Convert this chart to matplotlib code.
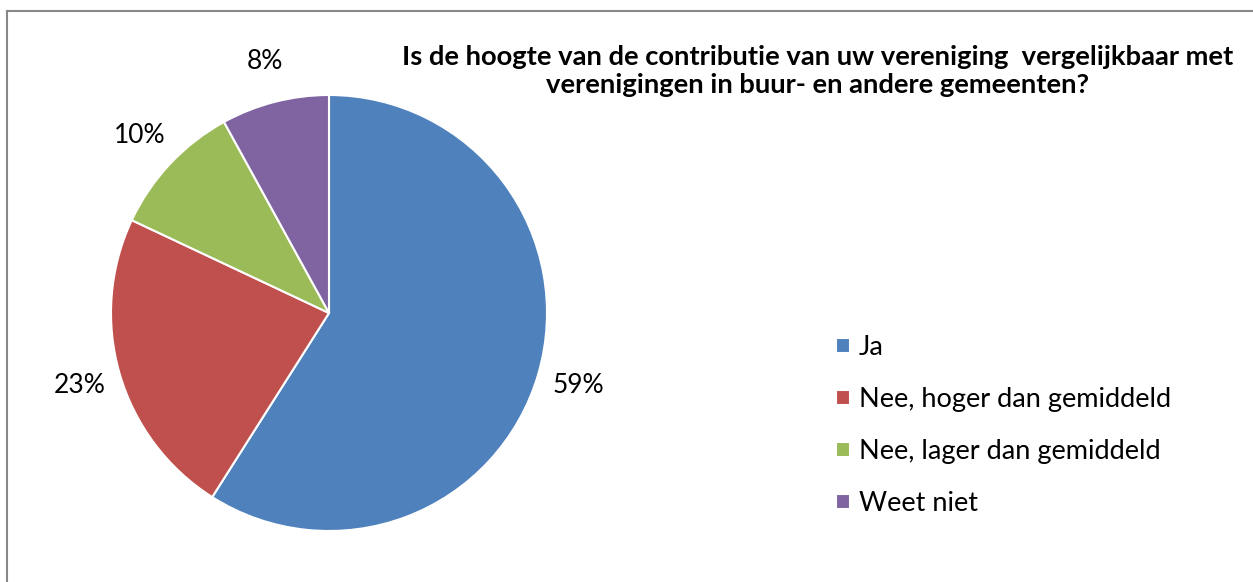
import matplotlib
matplotlib.use("Agg")
import matplotlib.pyplot as plt
from matplotlib.lines import Line2D

categories = ["Ja", "Nee, hoger dan gemiddeld", "Nee, lager dan gemiddeld", "Weet niet"]
values = [59, 23, 10, 8]
colors = ["#4F81BD", "#C0504D", "#9BBB59", "#8064A2"]
title = ("Is de hoogte van de contributie van uw vereniging  vergelijkbaar met\n"
         "verenigingen in buur- en andere gemeenten?")

plt.rcParams["font.family"] = ["Lato", "DejaVu Sans"]

W, H = 1253, 582
fig = plt.figure(figsize=(W / 100, H / 100), dpi=100)

# pie area in pixels: left 111, right 547, top 95, bottom 531
ax = fig.add_axes([111 / W, (H - 531) / H, 436 / W, 436 / H])
wedges, texts, autotexts = ax.pie(
    values, colors=colors, startangle=90, counterclock=False,
    autopct=lambda p: f"{p:.0f}%", pctdistance=1.19,
    wedgeprops=dict(edgecolor="white", linewidth=1.5),
    textprops=dict(fontsize=19, color="#000000"),
)
ax.set_xlim(-1, 1)
ax.set_ylim(-1, 1)

fig.text(818 / W, 1 - 71 / H, title, ha="center", va="center",
         fontsize=19.7, fontweight="bold", linespacing=1.2)

leg = fig.legend(wedges, categories, loc="upper left",
                 bbox_to_anchor=(836 / W, 1 - 335 / H), frameon=False,
                 fontsize=19.5, handlelength=0.5, handleheight=0.5,
                 handletextpad=0.35, labelspacing=1.0,
                 borderpad=0, borderaxespad=0)

# chart frame (only top and left edges visible)
fig.add_artist(Line2D([7 / W, 1], [1 - 11 / H, 1 - 11 / H], color="#878787", lw=1.5))
fig.add_artist(Line2D([7 / W, 7 / W], [0, 1 - 11 / H], color="#878787", lw=1.5))

fig.savefig("out.png", dpi=100)
